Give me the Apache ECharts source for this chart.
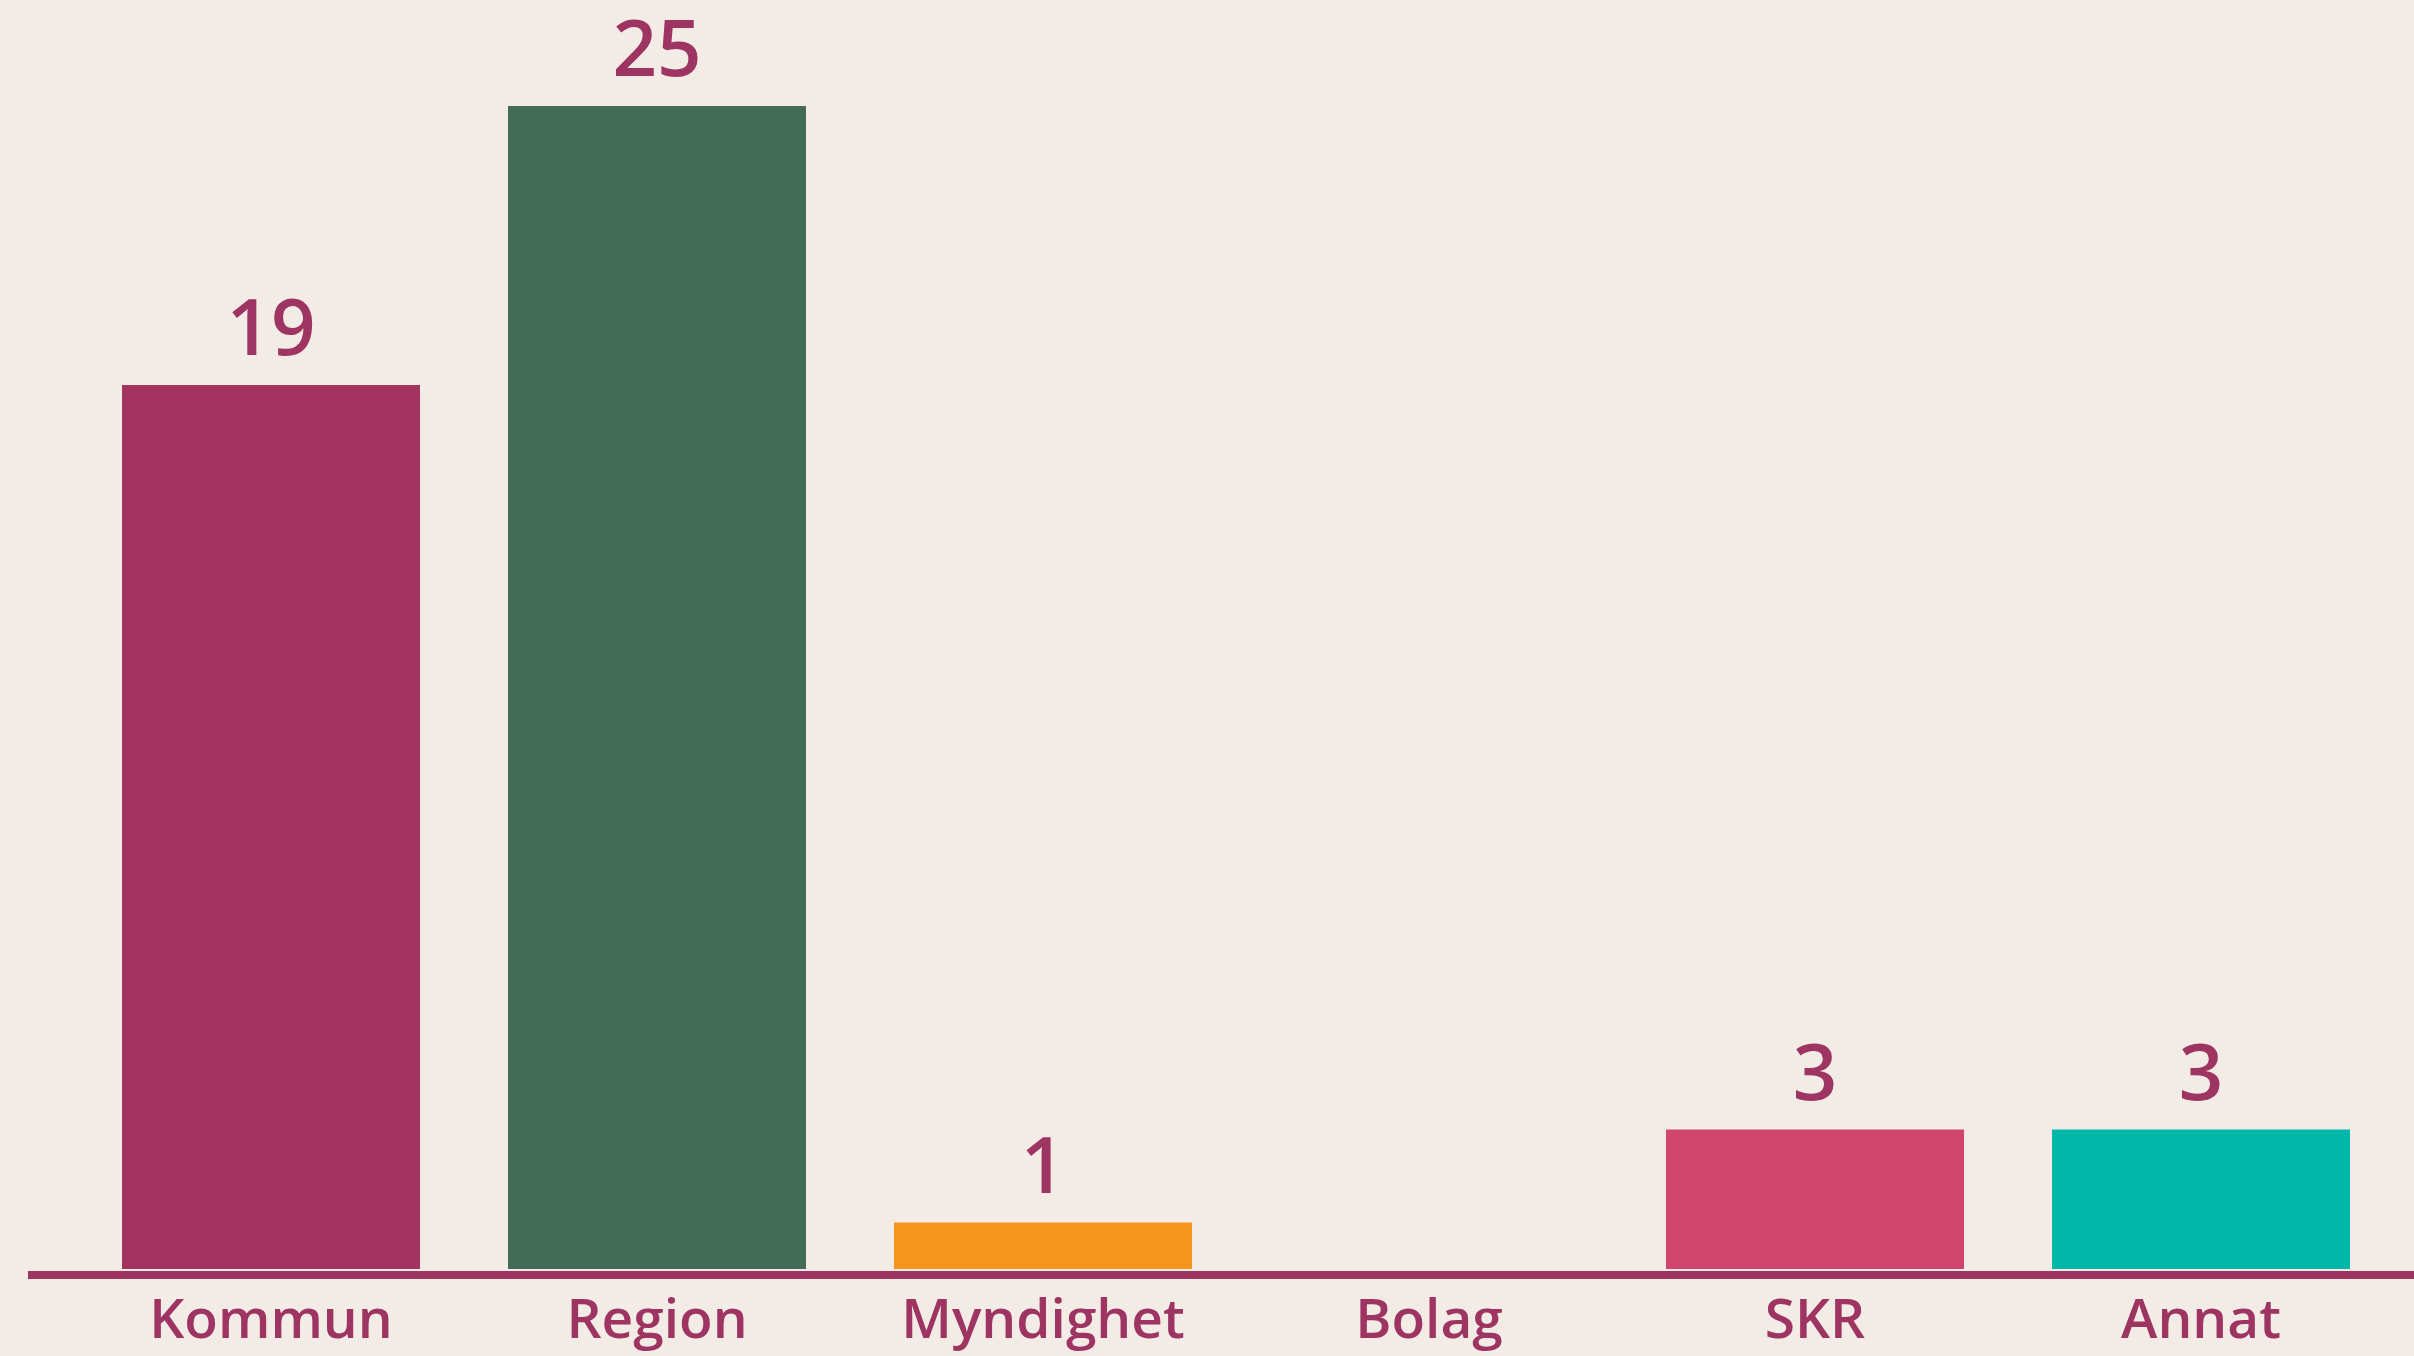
<!DOCTYPE html>
<html>
<head>
<meta charset="utf-8">
<script src="https://cdn.jsdelivr.net/npm/echarts@6/dist/echarts.min.js"></script>
<style>
html,body{margin:0;padding:0;background:#f3ebe5;}
#c{width:2414px;height:1356px;}
</style>
</head>
<body>
<div id="c"></div>
<script>
const categories = ['Kommun', 'Region', 'Myndighet', 'Bolag', 'SKR', 'Annat'];
const values = [19, 25, 1, 0, 3, 3];
const barColors = ['#a3345f', '#436b57', '#f7941d', '#7a7a7a', '#cf456e', '#00b8a9'];

const textColor = '#9d3461';
const chart = echarts.init(document.getElementById('c'), null, {renderer: 'canvas'});
const option = {
  backgroundColor: '#f3ebe5',
  animation: false,
  grid: {left: 78, right: 20, top: 106, bottom: 87, containLabel: false},
  xAxis: {
    type: 'category',
    data: categories,
    axisLine: {show: false},
    axisTick: {show: false},
    axisLabel: {
      margin: 26,
      color: textColor,
      fontFamily: 'Open Sans',
      fontWeight: 600,
      fontSize: 55
    }
  },
  yAxis: {
    type: 'value',
    min: 0,
    max: 25,
    show: false,
    splitLine: {show: false}
  },
  series: [{
    type: 'bar',
    barWidth: 298,
    data: values.map((v, i) => ({value: v, itemStyle: {color: barColors[i]}, label: {show: v > 0}})),
    label: {
      show: true,
      position: 'top',
      distance: 13,
      color: textColor,
      fontFamily: 'Open Sans',
      fontWeight: 600,
      fontSize: 78
    }
  }]
};
chart.setOption(option);
const y0 = chart.convertToPixel({yAxisIndex: 0}, 0);
chart.setOption({
  graphic: [{
    type: 'rect',
    shape: {x: 28, y: y0 + 2, width: 2414 - 28, height: 8},
    style: {fill: '#9e3561'},
    z: 10
  }]
});
</script>
</body>
</html>
